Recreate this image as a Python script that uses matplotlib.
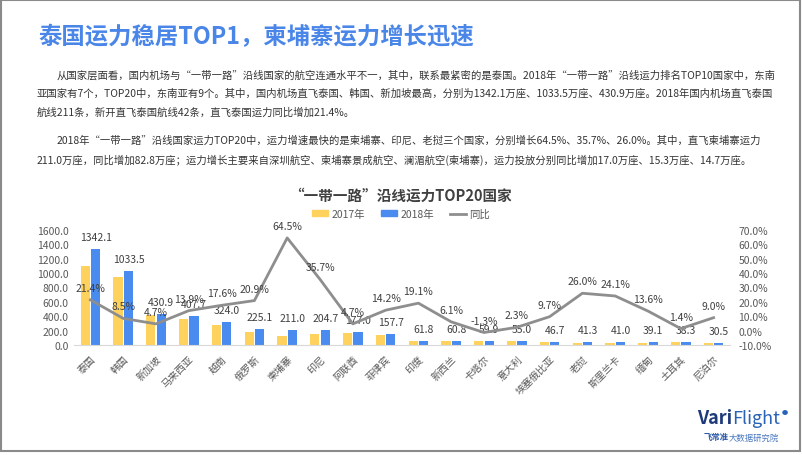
import matplotlib.pyplot as plt
from matplotlib.patches import Rectangle
from matplotlib.lines import Line2D

plt.rcParams['font.family'] = ['Noto Sans CJK SC', 'DejaVu Sans']

countries = ['泰国', '韩国', '新加坡', '马来西亚', '越南', '俄罗斯', '柬埔寨', '印尼', '阿联酋', '菲律宾',
             '印度', '新西兰', '卡塔尔', '意大利', '埃塞俄比亚', '老挝', '斯里兰卡', '缅甸', '土耳其', '尼泊尔']
cap_2017 = [1105.6, 952.5, 411.6, 358.0, 275.5, 186.2, 128.3, 150.8, 169.0, 138.1,
            51.9, 57.3, 60.7, 53.8, 42.6, 32.8, 33.0, 34.4, 37.8, 28.0]
cap_2018 = [1342.1, 1033.5, 430.9, 407.7, 324.0, 225.1, 211.0, 204.7, 177.0, 157.7,
            61.8, 60.8, 59.9, 55.0, 46.7, 41.3, 41.0, 39.1, 38.3, 30.5]
growth = [21.4, 8.5, 4.7, 13.9, 17.6, 20.9, 64.5, 35.7, 4.7, 14.2,
          19.1, 6.1, -1.3, 2.3, 9.7, 26.0, 24.1, 13.6, 1.4, 9.0]
left_ticks = [0, 200, 400, 600, 800, 1000, 1200, 1400, 1600]
right_ticks = [-10, 0, 10, 20, 30, 40, 50, 60, 70]

title = '泰国运力稳居TOP1，柬埔寨运力增长迅速'
para1 = ['从国家层面看，国内机场与“一带一路”沿线国家的航空连通水平不一，其中，联系最紧密的是泰国。2018年“一带一路”沿线运力排名TOP10国家中，东南',
         '亚国家有7个，TOP20中，东南亚有9个。其中，国内机场直飞泰国、韩国、新加坡最高，分别为1342.1万座、1033.5万座、430.9万座。2018年国内机场直飞泰国',
         '航线211条，新开直飞泰国航线42条，直飞泰国运力同比增加21.4%。']
para2 = ['2018年“一带一路”沿线国家运力TOP20中，运力增速最快的是柬埔寨、印尼、老挝三个国家，分别增长64.5%、35.7%、26.0%。其中，直飞柬埔寨运力',
         '211.0万座，同比增加82.8万座；运力增长主要来自深圳航空、柬埔寨景成航空、澜湄航空(柬埔寨)，运力投放分别同比增加17.0万座、15.3万座、14.7万座。']

W, H = 802, 456
YELLOW = '#FFD25E'
BLUE = '#4A8BEF'
GRAY_LINE = '#8E8E8E'
TXT = '#404040'

fig = plt.figure(figsize=(W / 100, H / 100), dpi=100)
fig.patch.set_facecolor('white')

def fx(px):
    return px / W

def fy(py):
    return 1 - py / H

# border
fig.add_artist(Rectangle((fx(1), fy(452)), fx(799), 1 - fy(452) - 0.002, transform=fig.transFigure,
                         fill=False, edgecolor='#8a8a8a', lw=1.5))

fig.text(fx(38), fy(37), title, color='#4A86E8', fontsize=16.8, fontweight='bold', va='center', ha='left')

for i, line in enumerate(para1):
    x0 = 57 if i == 0 else 37
    fig.text(fx(x0), fy(75 + i * 19), line, color='#333333', fontsize=7.45, va='center', ha='left')
for i, line in enumerate(para2):
    x0 = 57 if i == 0 else 37
    fig.text(fx(x0), fy(141 + i * 19), line, color='#333333', fontsize=7.45, va='center', ha='left')

fig.text(0.5, fy(196), '“一带一路”沿线运力TOP20国家', color=TXT, fontsize=10.5, fontweight='bold',
         ha='center', va='center')

# axes
ax = fig.add_axes([fx(74), fy(346), fx(730 - 74), fy(231) - fy(346)])
x = list(range(len(countries)))
bw = 0.28
ax.bar([i - 0.16 for i in x], cap_2017, width=bw, color=YELLOW, label='2017年', zorder=2)
ax.bar([i + 0.16 for i in x], cap_2018, width=bw, color=BLUE, label='2018年', zorder=2)
ax.set_ylim(0, 1600)
ax.set_xlim(-0.5, len(countries) - 0.5)
ax.set_yticks(left_ticks)
ax.set_yticklabels([f'{v:.1f}' for v in left_ticks], color='#595959', fontsize=7.5)
ax.set_xticks(x)
ax.set_xticklabels(countries, rotation=45, ha='right', va='top', rotation_mode='anchor',
                   color='#595959', fontsize=7.2)
ax.tick_params(length=0, pad=4)
ax.tick_params(axis='x', pad=6)
for s in ['top', 'right', 'left']:
    ax.spines[s].set_visible(False)
ax.spines['bottom'].set_color('#D9D9D9')
for i, v in enumerate(cap_2018):
    ax.annotate(f'{v:.1f}', (i + 0.16, v), xytext=(0, 5), textcoords='offset points',
                ha='center', va='bottom', fontsize=7.5, color=TXT, zorder=5)

ax2 = ax.twinx()
ax2.plot(x, growth, color=GRAY_LINE, lw=2, zorder=3)
ax2.set_ylim(-10, 70)
ax2.set_yticks(right_ticks)
ax2.set_yticklabels([f'{v:.1f}%' for v in right_ticks], color='#595959', fontsize=7.5)
ax2.tick_params(length=0, pad=6)
for s in ['top', 'right', 'left', 'bottom']:
    ax2.spines[s].set_visible(False)
for i, g in enumerate(growth):
    ax2.annotate(f'{g:.1f}%', (i, g), xytext=(0, 5), textcoords='offset points',
                 ha='center', va='bottom', fontsize=7.5, color=TXT, zorder=5)

# legend
handles = [Rectangle((0, 0), 1, 1, color=YELLOW), Rectangle((0, 0), 1, 1, color=BLUE),
           Line2D([0], [0], color=GRAY_LINE, lw=2)]
fig.legend(handles, ['2017年', '2018年', '同比'], loc='center', bbox_to_anchor=(0.5, fy(215)),
           ncol=3, frameon=False, fontsize=7.5, labelcolor='#595959', handlelength=1.6,
           handleheight=0.5, columnspacing=1.5, handletextpad=0.3)

# logo
vari = fig.text(fx(697), fy(419), 'Vari', color='#1F3A7A', fontsize=13, fontweight='bold',
                va='center', ha='left')
flight = ax2.annotate('Flight', xy=(1, 0.5), xycoords=vari, color='#2A62B5', fontsize=13,
                      va='center', ha='left', annotation_clip=False)
ax2.annotate('●', xy=(1, 0.85), xycoords=flight, xytext=(1.5, 0), textcoords='offset points',
             color='#2A62B5', fontsize=4.5, va='center', ha='left', annotation_clip=False)
sub = fig.text(fx(704), fy(438), '飞常准', color='#2B5AA8', fontsize=6, fontweight='bold',
               va='center', ha='left')
ax2.annotate('大数据研究院', xy=(1, 0.5), xycoords=sub, color='#4A78C0', fontsize=6,
             va='center', ha='left', annotation_clip=False)

fig.savefig('out.png', dpi=100)
